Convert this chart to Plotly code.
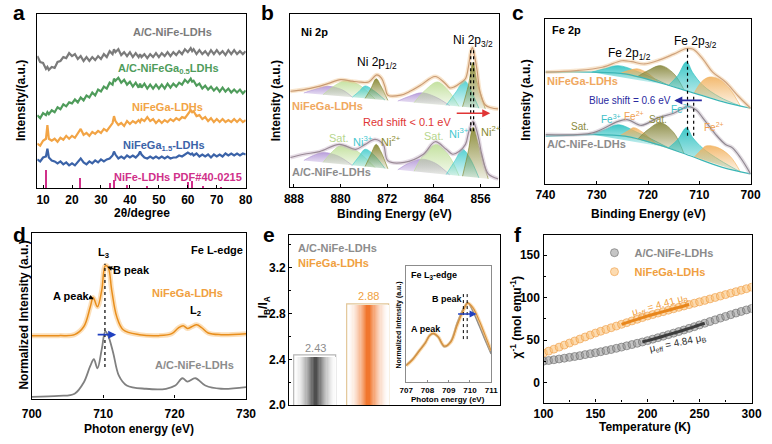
import plotly.graph_objects as go

W, H = 772, 444
FONT = 'Arial, Liberation Sans, sans-serif'

# ---------------- (a) XRD patterns, stacked (a.u.) ----------------
two_theta = [8, 9, 10, 11, 11.5, 12, 13, 14, 15, 16,
             17, 18, 19, 20, 21, 22, 23, 24, 25, 26,
             27, 28, 29, 30, 31, 32, 33, 34, 34.5, 35,
             36, 37, 38, 39, 40, 41, 42, 43, 43.5, 44,
             45, 46, 47, 48, 49, 50, 51, 52, 53, 54,
             55, 56, 57, 58, 59, 60, 61, 61.5, 62, 63,
             64, 65, 66, 67, 68, 69, 70, 71, 72, 73,
             74, 75, 76, 77, 78, 79, 80]
xrd_acnife = [134, 128, 127, 121, 123, 120, 123, 122, 128, 129,
              133, 132, 137, 134, 136, 131, 134, 129, 133, 129,
              133, 130, 134, 131, 136, 133, 139, 136, 141, 138,
              141, 135, 138, 134, 138, 133, 137, 133, 136, 133,
              136, 132, 136, 133, 137, 133, 137, 134, 138, 134,
              138, 135, 139, 136, 141, 138, 142, 139, 141, 136,
              140, 136, 139, 135, 140, 136, 140, 136, 139, 135,
              140, 136, 140, 136, 139, 136, 139]
xrd_acnifega05 = [74, 71, 76, 74, 77, 75, 79, 77, 82, 80,
                  85, 83, 87, 86, 90, 87, 92, 89, 94, 92,
                  97, 94, 100, 98, 103, 101, 107, 105, 111, 109,
                  112, 107, 110, 105, 108, 103, 107, 102, 106, 102,
                  106, 101, 105, 101, 105, 101, 105, 101, 106, 102,
                  106, 103, 107, 105, 110, 107, 111, 108, 109, 104,
                  106, 101, 104, 100, 103, 99, 102, 98, 102, 98,
                  101, 97, 100, 97, 100, 96, 99]
xrd_nifega = [45, 43, 48, 50, 64, 50, 48, 50, 47, 51,
              49, 53, 50, 53, 51, 55, 60, 54, 56, 53,
              57, 55, 58, 56, 60, 58, 62, 66, 73, 68,
              64, 66, 63, 68, 65, 68, 66, 69, 67, 70,
              68, 72, 68, 70, 66, 69, 66, 69, 67, 70,
              68, 71, 69, 72, 71, 75, 79, 77, 78, 73,
              74, 70, 72, 68, 71, 67, 70, 67, 70, 67,
              69, 67, 70, 67, 70, 67, 69]
xrd_nifega15 = [29, 27, 31, 32, 40, 31, 28, 27, 25, 27,
                24, 26, 23, 25, 23, 26, 30, 26, 24, 27,
                25, 28, 26, 29, 27, 29, 30, 33, 37, 34,
                30, 32, 30, 33, 31, 33, 31, 34, 37, 34,
                31, 30, 32, 30, 32, 30, 32, 30, 32, 30,
                31, 31, 33, 32, 34, 36, 34, 35, 33, 35,
                32, 34, 32, 34, 31, 34, 32, 34, 32, 35,
                33, 35, 33, 35, 33, 35, 34]
pdf_pos = [11.3, 22.9, 33.4, 34.5, 39.0, 46.0, 60.1, 61.4, 65.2, 71.5]
pdf_height = [18, 10.5, 5.5, 8.5, 2.8, 1.8, 6.8, 7.8, 2.2, 1.5]

# ---------------- (b) Ni 2p XPS ----------------
ni_top_env_x = [888.6, 886.3, 884.1, 882.2, 880.0, 878.0, 876.9, 875.2, 873.8, 873.0,
                872.4, 871.9, 869.7, 868.0, 866.3, 863.8, 862.2, 861.3, 860.5, 859.4,
                858.6, 858.1, 857.7, 857.4, 857.1, 856.6, 856.1, 855.2, 854.2, 853.0]
ni_top_env_y = [97.3, 99.0, 101.7, 105.0, 109.0, 107.5, 106.7, 106.7, 114.0, 110.7,
                102.0, 93.3, 93.3, 97.5, 103.3, 112.3, 106.0, 100.7, 101.7, 106.0,
                110.0, 121.7, 136.7, 141.7, 135.0, 118.3, 96.7, 83.3, 80.5, 79.3]
ni_top_comps = {
    'sat_p1': ([886.3, 884.4, 882.2, 879.7, 878.0], [95.5, 99.3, 102.3, 98.7, 91.3]),
    'sat_g1': ([883.0, 881.1, 879.1, 876.9, 874.1], [93.8, 102.7, 108.3, 104.0, 89.3]),
    'ni3_1': ([878.0, 876.9, 875.8, 874.4, 872.4], [91.3, 96.7, 102.7, 98.3, 88.3]),
    'ni2_1': ([875.8, 874.8, 873.9, 873.1, 871.9], [90.0, 100.0, 110.0, 102.7, 88.0]),
    'sat_p2': ([870.2, 868.3, 866.1, 863.8, 861.3], [87.3, 92.0, 95.7, 91.7, 82.7]),
    'sat_g2': ([867.4, 865.5, 863.4, 861.6, 859.7], [85.7, 98.3, 106.7, 98.3, 81.7]),
    'ni3_2': ([861.9, 860.2, 858.8, 857.7, 856.3], [83.0, 96.7, 108.3, 98.3, 80.0]),
    'ni2_2': ([859.1, 858.1, 857.3, 856.6, 855.2], [81.5, 103.3, 126.7, 106.7, 79.5]),
}
ni_bot_env_x = [888.6, 886.3, 883.6, 880.2, 877.4, 875.8, 874.1, 872.7, 871.9, 869.1,
                865.8, 863.8, 861.9, 860.8, 859.7, 858.6, 858.0, 857.3, 856.8, 856.3,
                855.8, 854.7, 853.0]
ni_bot_env_y = [30.0, 33.3, 36.0, 43.3, 38.3, 43.3, 48.3, 43.3, 26.7, 25.0,
                33.3, 46.0, 38.3, 33.3, 36.0, 43.3, 56.7, 66.7, 60.0, 48.3,
                33.3, 13.3, 8.3]
ni_bot_comps = {
    'sat_p1': ([886.3, 884.7, 883.0, 880.5, 878.0], [27.0, 32.0, 35.0, 31.7, 22.0]),
    'sat_g1': ([883.0, 881.4, 879.9, 877.4, 874.1], [25.0, 36.0, 42.3, 37.3, 19.7]),
    'ni3_1': ([878.0, 876.9, 875.8, 874.4, 872.4], [22.0, 30.7, 38.3, 33.3, 18.8]),
    'ni2_1': ([875.8, 874.8, 873.9, 873.1, 871.9], [20.8, 33.3, 43.3, 36.0, 18.5]),
    'sat_p2': ([870.2, 868.3, 866.1, 863.8, 861.3], [17.5, 24.3, 28.3, 24.3, 12.3]),
    'sat_g2': ([867.4, 865.7, 863.6, 861.6, 859.7], [16.0, 33.3, 43.3, 33.3, 11.3]),
    'ni3_2': ([861.9, 860.4, 859.1, 857.9, 856.3], [12.7, 26.7, 38.3, 30.0, 9.3]),
    'ni2_2': ([859.1, 858.1, 857.3, 856.3, 854.7], [11.0, 36.7, 60.7, 41.7, 8.3]),
}
ni_peak_ev = [857.7, 857.2]
ni_peak_span = [56.7, 141.7]

# ---------------- (c) Fe 2p XPS ----------------
fe_top_env_x = [740, 734.0, 728.9, 725.1, 723.2, 720.7, 718.2, 715.0, 712.5, 711.2,
                709.3, 707.4, 704.9, 702.3, 700]
fe_top_env_y = [113.4, 115.0, 118.4, 125.0, 124.0, 121.7, 125.0, 131.7, 137.4, 136.7,
                126.7, 113.4, 103.4, 88.4, 76.7]
fe_top_base_x = [740, 730.8, 724.5, 718.2, 711.8, 705.5, 700]
fe_top_base_y = [113.4, 113.4, 111.7, 103.4, 93.4, 83.4, 76.7]
fe_top_comps = {
    'fe3_1': ([731, 728.5, 725.8, 722, 716], [113.4, 117, 120, 114, 100]),
    'fe2_1': ([725.5, 723.8, 722, 720, 718], [112, 115, 116.7, 112, 103]),
    'sat_1': ([722, 720, 717.5, 715, 713], [109, 115, 120, 112, 95.5]),
    'fe3_2': ([716, 714.2, 712.5, 711.3, 709.3, 706, 702], [100, 110, 124, 113, 100, 88, 79]),
    'fe2_2': ([711, 709.5, 708, 706, 704, 702], [92, 104, 108.4, 106, 96, 79]),
}
fe_bot_env_x = [740, 730.8, 725.8, 723.9, 721.3, 718.2, 715.0, 712.2, 710.6, 709.3,
                706.8, 704.9, 703.6, 702.0, 700]
fe_bot_env_y = [50.0, 51.7, 63.4, 65.0, 59.4, 66.7, 71.7, 78.4, 75.0, 66.7,
                50.0, 40.0, 36.7, 26.7, 10.0]
fe_bot_base_x = [740, 730.8, 724.5, 718.2, 711.8, 705.5, 700]
fe_bot_base_y = [48.4, 50.0, 48.4, 40.0, 28.4, 16.7, 10.0]
fe_bot_comps = {
    'fe3_1': ([731, 728.5, 725.8, 722, 716], [50, 55, 60, 52, 36.5]),
    'fe2_1': ([725.5, 723.8, 722.8, 721, 718.5], [48.8, 54, 57, 52, 40.5]),
    'sat_1': ([722, 720, 717.6, 715, 713], [45.5, 55, 62, 52, 30.5]),
    'fe3_2': ([716, 714.2, 712.5, 711.3, 709.3, 706, 702], [36.5, 45, 57, 47, 36, 24, 12]),
    'fe2_2': ([711, 709.5, 708.7, 706.5, 704, 702], [27, 35, 38.4, 37, 28, 12]),
}
fe_peak_ev = [712.3, 711.1]
fe_peak_top = [140.0, 90.0]
fe_peak_bottom = 48.7

# ---------------- (d) Fe L-edge XAS ----------------
xas_ga_x = [700, 703.8, 706, 707.3, 708.2, 708.6, 709.2, 709.8, 710.3, 710.7,
            711.2, 711.9, 712.8, 715.1, 717.8, 719.6, 720.5, 721.2, 721.8, 722.4,
            723.1, 723.8, 724.7, 726.5, 730]
xas_ga_y = [64, 64, 65, 73.3, 93.3, 102.7, 93.3, 110, 135, 133.3,
            110, 83.3, 70, 65, 64, 66, 71.7, 74, 71.3, 73,
            75, 72, 66.7, 65, 66]
xas_ac_x = [700, 703.8, 706, 707.3, 708.2, 708.7, 709.2, 709.8, 710.3, 710.7,
            711.4, 712.2, 713.3, 716, 718.8, 720.1, 721.1, 721.8, 722.9, 724.3,
            726.5, 730]
xas_ac_y = [1.7, 2.7, 5, 16.7, 33.3, 40, 30.7, 50, 68.3, 64,
            46.7, 23.3, 13.3, 10, 10, 13.3, 20.7, 17.3, 20.7, 13.3,
            10, 11.7]
xas_peak_ev = 710.25
xas_peak_span = [32, 137]

# ---------------- (e) IB/IA ratio + inset ----------------
ratio_names = ['A/C-NiFe-LDHs', 'NiFeGa-LDHs']
ratio_vals = [2.43, 2.88]
l3_x = [707.0, 707.3, 707.6, 707.9, 708.1, 708.27, 708.5, 708.8, 709.1, 709.4,
        709.7, 709.9, 710.15, 710.45, 710.7, 711.0]
l3_ac_y = [17.5, 23.5, 31.8, 40.2, 47.5, 49.5, 46.2, 36.2, 41.8, 60.2,
           75.2, 80.8, 72.0, 57.0, 44.0, 29.0]
l3_ga_y = [17.0, 23.0, 31.5, 40.0, 47.5, 49.8, 46.5, 37.0, 41.0, 58.0,
           73.5, 80.5, 75.5, 62.0, 48.5, 32.0]
l3_peak_ev = [709.69, 709.87]
l3_peak_span = [44, 92]

# ---------------- (f) inverse susceptibility ----------------
temp_k = [100, 105, 110, 115, 120, 125, 130, 135, 140, 145,
          150, 155, 160, 165, 170, 175, 180, 185, 190, 195,
          200, 205, 210, 215, 220, 225, 230, 235, 240, 245,
          250, 255, 260, 265, 270, 275, 280, 285, 290, 295, 300]
chi_ac = [25.5, 26.3, 27.2, 28.1, 29.0, 30.0, 31.0, 32.0, 33.2, 34.3,
          35.4, 36.6, 37.9, 39.2, 40.6, 42.0, 43.5, 45.0, 46.5, 48.0,
          49.6, 51.3, 53.0, 54.8, 56.6, 58.4, 60.2, 62.1, 64.0, 66.0,
          68.0, 70.0, 72.0, 74.0, 76.0, 78.0, 80.0, 81.9, 83.8, 85.6, 87.3]
chi_ga = [35.0, 37.3, 39.6, 42.0, 44.4, 46.8, 49.2, 51.5, 53.9, 56.2,
          58.5, 60.6, 62.7, 64.7, 66.7, 68.7, 70.7, 72.7, 74.6, 76.6,
          78.5, 80.2, 81.9, 83.6, 85.3, 87.0, 88.6, 90.2, 91.9, 93.5,
          95.1, 96.8, 98.5, 100.2, 101.9, 103.6, 105.3, 107.0, 108.7, 110.5, 112.3]


def dx(x0, x1):
    return [x0 / W, x1 / W]


def dy(y0, y1):
    return [1 - y1 / H, 1 - y0 / H]


def P(x, y):
    return x / W, 1 - y / H


fig = go.Figure()
annotations = []


def label(text, x, y, color='black', size=11, bold=True, anchor='center', angle=0, yanchor='middle'):
    X, Y = P(x, y)
    annotations.append(dict(text=text, x=X, y=Y, xref='paper', yref='paper',
                            xanchor=anchor, yanchor=yanchor, showarrow=False, textangle=angle,
                            borderpad=0,
                            font=dict(family=FONT, size=size, color=color,
                                      weight='bold' if bold else 'normal')))


def arrow(x0, y0, x1, y1, color, width=1.6, head=2, size=1.0):
    X, Y = P(x1, y1)
    annotations.append(dict(text='', x=X, y=Y, xref='paper', yref='paper',
                            ax=x0 - x1, ay=y0 - y1, showarrow=True, arrowhead=head,
                            arrowsize=size, arrowwidth=width, arrowcolor=color))


def line(x, y, ax, color, width, shape='spline', dash=None):
    fig.add_trace(go.Scatter(x=x, y=y, mode='lines', xaxis='x' + ax, yaxis='y' + ax,
                             line=dict(color=color, width=width, shape=shape, dash=dash),
                             showlegend=False, hoverinfo='skip'))


def comp(xs, ys, rgb, ax):
    r, g, b = rgb
    fig.add_trace(go.Scatter(
        x=xs, y=ys, mode='lines', fill='toself', xaxis='x' + ax, yaxis='y' + ax,
        line=dict(color='rgba(%d,%d,%d,0.9)' % (r, g, b), width=0.7, shape='spline'),
        fillgradient=dict(type='vertical',
                          colorscale=[[0, 'rgba(%d,%d,%d,0.15)' % (r, g, b)],
                                      [1, 'rgba(%d,%d,%d,0.9)' % (r, g, b)]]),
        showlegend=False, hoverinfo='skip'))


# ---- a
line(two_theta, xrd_acnife, '', '#7b7b7b', 2.2, shape='linear')
line(two_theta, xrd_acnifega05, '', '#4f9c5b', 2.2, shape='linear')
line(two_theta, xrd_nifega, '', '#f2a445', 2.2, shape='linear')
line(two_theta, xrd_nifega15, '', '#3b63a8', 2.2, shape='linear')
fig.add_trace(go.Bar(x=pdf_pos, y=pdf_height, width=0.4, marker=dict(color='#d0308a', line=dict(width=0)),
                     xaxis='x', yaxis='y', showlegend=False, hoverinfo='skip'))

# ---- b
ni_cols = {'sat_p': (178, 150, 215), 'sat_g': (190, 222, 150), 'ni3': (70, 205, 205), 'ni2': (130, 130, 40)}
for comps in (ni_top_comps, ni_bot_comps):
    for key in ('sat_p1', 'sat_g1', 'ni3_1', 'ni2_1', 'sat_p2', 'sat_g2', 'ni3_2', 'ni2_2'):
        xs, ys = comps[key]
        comp(xs, ys, ni_cols[key[:-1].rstrip('_')], '2')
line(ni_top_env_x, ni_top_env_y, '2', 'rgba(240,195,140,0.45)', 4)
line(ni_top_env_x, ni_top_env_y, '2', '#c99a72', 1.2)
line(ni_bot_env_x, ni_bot_env_y, '2', 'rgba(200,180,200,0.45)', 4)
line(ni_bot_env_x, ni_bot_env_y, '2', '#9a8a96', 1.2)
for ev in ni_peak_ev:
    line([ev, ev], ni_peak_span, '2', 'black', 1.2, shape='linear', dash='dot')

# ---- c
fe_cols = {'fe3': (40, 192, 192), 'fe2': (242, 178, 95), 'sat': (135, 135, 60)}
for comps, bx, by in ((fe_top_comps, fe_top_base_x, fe_top_base_y),
                      (fe_bot_comps, fe_bot_base_x, fe_bot_base_y)):
    for key in ('fe3_1', 'fe2_1', 'sat_1', 'fe3_2', 'fe2_2'):
        xs, ys = comps[key]
        comp(xs, ys, fe_cols[key[:3]], '3')
    line(bx, by, '3', '#3cb6b6', 1.2)
line(fe_top_env_x, fe_top_env_y, '3', 'rgba(240,200,150,0.45)', 4)
line(fe_top_env_x, fe_top_env_y, '3', '#cfa27c', 1.2)
line(fe_bot_env_x, fe_bot_env_y, '3', 'rgba(190,180,190,0.45)', 4)
line(fe_bot_env_x, fe_bot_env_y, '3', '#8f8790', 1.2)
for ev, top in zip(fe_peak_ev, fe_peak_top):
    line([ev, ev], [fe_peak_bottom, top], '3', 'black', 1.2, shape='linear', dash='dot')

# ---- d
line(xas_ga_x, xas_ga_y, '4', 'rgba(248,185,100,0.45)', 5)
line(xas_ga_x, xas_ga_y, '4', '#e88e1c', 1.5)
line(xas_ac_x, xas_ac_y, '4', '#808080', 1.8)
line([xas_peak_ev, xas_peak_ev], xas_peak_span, '4', 'black', 1.2, shape='linear', dash='dot')

# ---- e  (horizontal shading built from stacked bars of shrinking width)
n_layers = 18
for i, (val, centre, edge) in enumerate(zip(ratio_vals, [(60, 60, 60), (240, 105, 25)],
                                             ['#b5b5b5', '#e2c596'])):
    fig.add_trace(go.Bar(x=[i], y=[val], width=0.8, marker=dict(color='white', line=dict(color=edge, width=1.2)),
                         xaxis='x5', yaxis='y5', showlegend=False, hoverinfo='skip'))
    for k in range(1, n_layers):
        t = k / n_layers
        s = t ** 1.7
        c = tuple(int(255 + (cc - 255) * s) for cc in centre)
        fig.add_trace(go.Bar(x=[i], y=[val - 0.004], width=0.8 * (1 - t) + 0.02,
                             marker=dict(color='rgb(%d,%d,%d)' % c, line=dict(width=0)),
                             xaxis='x5', yaxis='y5', showlegend=False, hoverinfo='skip'))
line(l3_x, l3_ac_y, '7', '#8a8a8a', 1.6)
line(l3_x, l3_ga_y, '7', 'rgba(248,185,100,0.5)', 3.5)
line(l3_x, l3_ga_y, '7', '#d8903a', 1.2)
for ev in l3_peak_ev:
    line([ev, ev], l3_peak_span, '7', 'black', 1, shape='linear', dash='dot')

# ---- f
fig.add_trace(go.Scatter(x=temp_k, y=chi_ac, mode='markers', xaxis='x6', yaxis='y6',
                         name='<span style="color:#8a8a8a">A/C-NiFe-LDHs</span>',
                         marker=dict(size=8, color='rgba(150,150,150,0.55)',
                                     line=dict(color='rgba(105,105,105,0.6)', width=1))))
fig.add_trace(go.Scatter(x=temp_k, y=chi_ga, mode='markers', xaxis='x6', yaxis='y6',
                         name='<span style="color:#f0a040">NiFeGa-LDHs</span>',
                         marker=dict(size=8, color='rgba(250,195,125,0.6)',
                                     line=dict(color='rgba(238,155,65,0.6)', width=1))))
line(temp_k[19:32], chi_ac[19:32], '6', '#3c3c3c', 3)
line(temp_k[15:29], chi_ga[15:29], '6', '#e8861c', 3)

# ---------------- axes ----------------
tickfont = dict(family=FONT, size=12, color='black', weight='bold')


def frame(**kw):
    d = dict(showline=True, linecolor='black', linewidth=1.4, mirror=True, showgrid=False,
             zeroline=False, ticks='inside', ticklen=3, tickwidth=1.2, tickcolor='black',
             tickfont=tickfont)
    d.update(kw)
    return d


blank = dict(showticklabels=False, ticks='')
fig.update_layout(
    xaxis=frame(domain=dx(28, 242), range=[8, 80], tickvals=[10, 20, 30, 40, 50, 60, 70, 80], anchor='y'),
    yaxis=frame(domain=dy(14, 191), range=[0, 177], anchor='x', **blank),
    xaxis2=frame(domain=dx(287.3, 501.7), range=[888.7, 852.9], tickvals=[888, 880, 872, 864, 856], anchor='y2'),
    yaxis2=frame(domain=dy(14, 190), range=[0, 176], anchor='x2', **blank),
    xaxis3=frame(domain=dx(549.7, 760.3), range=[740, 700], tickvals=[740, 730, 720, 710, 700], anchor='y3'),
    yaxis3=frame(domain=dy(19, 186.7), range=[0, 167.7], anchor='x3', **blank),
    xaxis4=frame(domain=dx(22.3, 242.3), range=[700, 730], tickvals=[700, 710, 720, 730], anchor='y4',
                 ticklabelstandoff=4),
    yaxis4=frame(domain=dy(236.7, 405), range=[0, 168.3], anchor='x4', **blank),
    xaxis5=frame(domain=dx(286.7, 503.3), range=[-0.5, 3.5], anchor='y5', **blank),
    yaxis5=frame(domain=dy(238.3, 411.7), range=[2.0, 3.49], anchor='x5',
                 tickvals=[2.0, 2.4, 2.8, 3.2], ticktext=['2.0', '2.4', '2.8', '3.2'],
                 minor=dict(dtick=0.2, tick0=2.0, ticks='inside', ticklen=2, tickcolor='black')),
    xaxis6=frame(domain=dx(547.7, 761.3), range=[100, 300], tickvals=[100, 150, 200, 250, 300], anchor='y6',
                 minor=dict(dtick=25, tick0=100, ticks='inside', ticklen=2, tickcolor='black')),
    yaxis6=frame(domain=dy(238.3, 409), range=[-23, 174], tickvals=[0, 50, 100, 150], anchor='x6',
                 minor=dict(dtick=25, tick0=0, ticks='inside', ticklen=2, tickcolor='black')),
    xaxis7=frame(domain=dx(406.7, 494), range=[707, 711], tickvals=[707, 708, 709, 710, 711], anchor='y7',
                 linecolor='#8c8c8c', linewidth=1, ticklen=2, tickcolor='#8c8c8c',
                 tickfont=dict(family=FONT, size=8, color='black', weight='bold')),
    yaxis7=frame(domain=dy(270, 388.5), range=[0, 118.5], anchor='x7', linecolor='#8c8c8c', linewidth=1, **blank),
    barmode='overlay', bargap=0,
    width=W, height=H, margin=dict(l=0, r=0, t=0, b=0),
    paper_bgcolor='white', plot_bgcolor='white',
    font=dict(family=FONT, color='black'),
    legend=dict(x=600 / W, y=1 - 242 / H, xanchor='left', yanchor='top', bgcolor='rgba(0,0,0,0)',
                font=dict(family=FONT, size=11, weight='bold'), tracegroupgap=0, itemwidth=30),
)

# ---------------- text ----------------
for t, x in (('a', 9), ('b', 264), ('c', 521)):
    label(t, x, 0, size=21, yanchor='top')
for t, x in (('d', 10), ('e', 266), ('f', 522)):
    label(t, x, 226, size=21, yanchor='top')

# axis titles
label('Intensity/(a.u.)', 12, 102, size=12, angle=-90)
label('2θ/degree', 135, 216, size=12)
label('Intensity (a.u.)', 273, 102, size=12, angle=-90)
label('Binding Energy (eV)', 395, 217, size=12)
label('Intensity (a.u.)', 530, 102, size=12, angle=-90)
label('Binding Energy (eV)', 655, 217, size=12)
label('Normalized Intensity (a.u.)', 14, 320, size=12, angle=-90)
label('Photon energy (eV)', 132, 436, size=12)
label('I<sub>B</sub>/I<sub>A</sub>', 261, 312, size=12, angle=-90)
label('χ<sup>-1</sup> (mol emu<sup>-1</sup>)', 519, 322, size=12, angle=-90)
label('Temperature (K)', 652, 434, size=12)

# a
label('A/C-NiFe-LDHs', 167, 33, '#7b7b7b')
label('A/C-NiFeGa<sub>0.5</sub>LDHs', 163, 70, '#4f9c5b')
label('NiFeGa-LDHs', 162, 109, '#f2a445')
label('NiFeGa<sub>1.5</sub>-LDHs', 158, 148, '#3b63a8')
label('NiFe-LDHs PDF#40-0215', 172, 180, '#d0308a')

# b
label('Ni 2p', 298, 33, anchor='left')
label('Ni 2p<sub>1/2</sub>', 377, 64, bold=False, size=12)
label('Ni 2p<sub>3/2</sub>', 475, 42, bold=False, size=12)
label('NiFeGa-LDHs', 288, 108, '#f0a860', anchor='left')
label('A/C-NiFe-LDHs', 288, 175, '#8c8c8c', anchor='left')
label('Red shift < 0.1 eV', 408, 124, '#e03535', bold=False, size=11)
arrow(458, 115, 493, 115, '#e03535')
label('Sat.', 338, 140, '#b6d68e', bold=False)
label('Ni<sup>3+</sup>', 362, 143, '#45c8d0', bold=False)
label('Ni<sup>2+</sup>', 391, 143, '#8a8a30', bold=False)
label('Sat.', 435, 138, '#b6d68e', bold=False)
label('Ni<sup>3+</sup>', 461, 135, '#45c8d0', bold=False)
label('Ni<sup>2+</sup>', 494, 133, '#8a8a30', bold=False)

# c
label('Fe 2p', 555, 30, anchor='left')
label('Fe 2p<sub>1/2</sub>', 636, 55, bold=False, size=12)
label('Fe 2p<sub>3/2</sub>', 704, 43, bold=False, size=12)
label('NiFeGa-LDHs', 550, 82, '#f0a860', anchor='left')
label('A/C-NiFe-LDHs', 550, 146, '#8c8c8c', anchor='left')
label('Blue shift = 0.6 eV', 636, 102, '#2a2aa0', bold=False, size=10)
arrow(711, 102, 682, 102, '#2a2aa0')
label('Fe<sup>3+</sup>', 689, 111, '#3cc0c8', bold=False, size=10)
label('Fe<sup>3+</sup>', 617, 121, '#3cc0c8', bold=False, size=10)
label('Fe<sup>2+</sup>', 641, 118, '#f0a050', bold=False, size=10)
label('Sat.', 665, 121, '#8a8a40', bold=False, size=10)
label('Sat.', 585, 129, '#8a8a40', bold=False, size=10)
label('Fe<sup>2+</sup>', 723, 129, '#f0a050', bold=False, size=10)

# d
label('Fe L-edge', 213, 254)
label('L<sub>3</sub>', 96, 257)
label('B peak', 125, 274)
arrow(108, 274, 100, 271, 'black', width=1.2, head=2, size=0.8)
label('A peak', 63, 301)
arrow(80, 301, 86, 304, 'black', width=1.2, head=2, size=0.8)
label('NiFeGa-LDHs', 182, 298, '#f0a040')
label('L<sub>2</sub>', 190, 316)
label('A/C-NiFe-LDHs', 189, 371, '#8c8c8c')
arrow(89, 340, 109, 340, '#2040c0')

# e
label('A/C-NiFe-LDHs', 295, 252, '#8c8c8c', anchor='left')
label('NiFeGa-LDHs', 295, 267, '#f0a040', anchor='left')
label('%.2f' % ratio_vals[0], 314, 354, '#8c8c8c', bold=False, size=11)
label('%.2f' % ratio_vals[1], 368, 301, '#f0a040', bold=False, size=11)
label('Fe L<sub>3</sub>-edge', 411, 280, size=9, anchor='left')
label('B peak', 449, 304, size=9)
label('A peak', 427, 334, size=9)
arrow(459, 319, 479, 319, '#2040c0', width=1.4)
label('Normalized Intensity (a.u.)', 399, 330, size=7, angle=-90)
label('Photon energy (eV)', 450, 406, size=8)

# f
label('μ<sub>eff</sub> = 4.41 μ<sub>B</sub>', 667, 310, '#f0a040', bold=False, size=10, angle=-16)
label('μ<sub>eff</sub> = 4.84 μ<sub>B</sub>', 686, 349, '#303030', bold=False, size=10, angle=-12)

fig.update_layout(annotations=annotations)
fig.write_html('out.html', config={'displayModeBar': False},
               post_script="document.body.style.margin='0';document.body.style.overflow='hidden';")
